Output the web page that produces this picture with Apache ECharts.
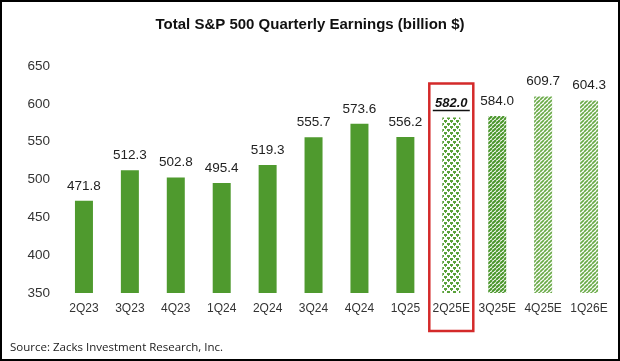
<!DOCTYPE html>
<html><head><meta charset="utf-8">
<script src="https://cdn.jsdelivr.net/npm/echarts@6/dist/echarts.min.js"></script>
<style>html,body{margin:0;padding:0;background:#fff}#c{width:620px;height:361px}</style>
</head><body><div id="c"></div>
<script>
const categories = ['2Q23','3Q23','4Q23','1Q24','2Q24','3Q24','4Q24','1Q25','2Q25E','3Q25E','4Q25E','1Q26E'];
const earnings = [471.8,512.3,502.8,495.4,519.3,555.7,573.6,556.2,582.0,584.0,609.7,604.3];
const barKinds = ['solid','solid','solid','solid','solid','solid','solid','solid','dots','hatchDark','hatchLight','hatchLight'];
const yTicks = [350,400,450,500,550,600,650];
const highlight = '2Q25E';

const GREEN = '#4f9a2e';
function mk(w,h,draw){const c=document.createElement('canvas');c.width=w;c.height=h;const g=c.getContext('2d');g.fillStyle='#fff';g.fillRect(0,0,w,h);draw(g);return {image:c,repeat:'repeat'};}
function hatch(color,lw,s){return mk(s,s,g=>{g.strokeStyle=color;g.lineWidth=lw;for(let k=-1;k<=1;k++){g.beginPath();g.moveTo(k*s,s);g.lineTo(k*s+s,0);g.stroke();}});}
const fills = {
  solid: GREEN,
  dots: mk(6,6,g=>{g.fillStyle='#5aa23a';g.fillRect(0,0,3,2);g.fillRect(3,3,3,2);g.fillRect(1,0,1,3);g.fillRect(4,3,1,3);}),
  hatchDark: hatch('#4a962b',2,4),
  hatchLight: hatch('#6aaa48',1.7,4)
};

const data = earnings.map((v,i)=>{
  const d={value:v,itemStyle:{color:fills[barKinds[i]]}};
  if(categories[i]===highlight){
    d.label={distance:6,formatter:p=>'{b|'+p.value.toFixed(1)+'}\n{u|}',
      rich:{b:{fontWeight:'bold',fontStyle:'italic',fontSize:13,color:'#111',fontFamily:'Liberation Sans',lineHeight:13},
            u:{width:37,height:1.5,backgroundColor:'#111',lineHeight:2}}};
  }
  return d;
});

const chart = echarts.init(document.getElementById('c'));
chart.setOption({
  animation:false,
  backgroundColor:'#fff',
  title:{text:'Total S&P 500 Quarterly Earnings (billion $)',left:'center',top:12,
    textStyle:{fontFamily:'Liberation Sans',fontWeight:'bold',fontSize:15,color:'#111'}},
  grid:{left:61,right:8,top:66,bottom:68,containLabel:false},
  xAxis:{type:'category',data:categories,axisLine:{show:false},axisTick:{show:false},
    axisLabel:{interval:0,fontFamily:'Liberation Sans',fontSize:12,color:'#333',margin:10}},
  yAxis:{type:'value',min:yTicks[0],max:yTicks[yTicks.length-1],interval:50,
    splitLine:{show:false},axisLine:{show:false},axisTick:{show:false},
    axisLabel:{fontFamily:'Liberation Sans',fontSize:13.5,color:'#333',margin:11}},
  series:[{type:'bar',data:data,barWidth:18,
    label:{show:true,position:'top',distance:8,fontFamily:'Liberation Sans',fontSize:13.5,color:'#222',
      formatter:p=>p.value.toFixed(1)}}]
});
const cx = chart.convertToPixel({xAxisIndex:0},highlight);
const idx = categories.indexOf(highlight);
const yTop = chart.convertToPixel({yAxisIndex:0},earnings[idx]);
const yBot = chart.convertToPixel({yAxisIndex:0},yTicks[0]);
chart.setOption({graphic:[
  {type:'rect',shape:{x:cx-22,y:yTop-34,width:44,height:(yBot+38)-(yTop-34)},style:{fill:null,stroke:'#d42a2a',lineWidth:2.5},z:100},
  {type:'rect',shape:{x:1,y:1,width:618,height:359},style:{fill:null,stroke:'#000',lineWidth:2},z:100},
  {type:'text',left:10,top:342,style:{text:'Source: Zacks Investment Research, Inc.',fontFamily:'Open Sans',fontSize:11.5,fill:'#222'}}
]});
</script></body></html>
